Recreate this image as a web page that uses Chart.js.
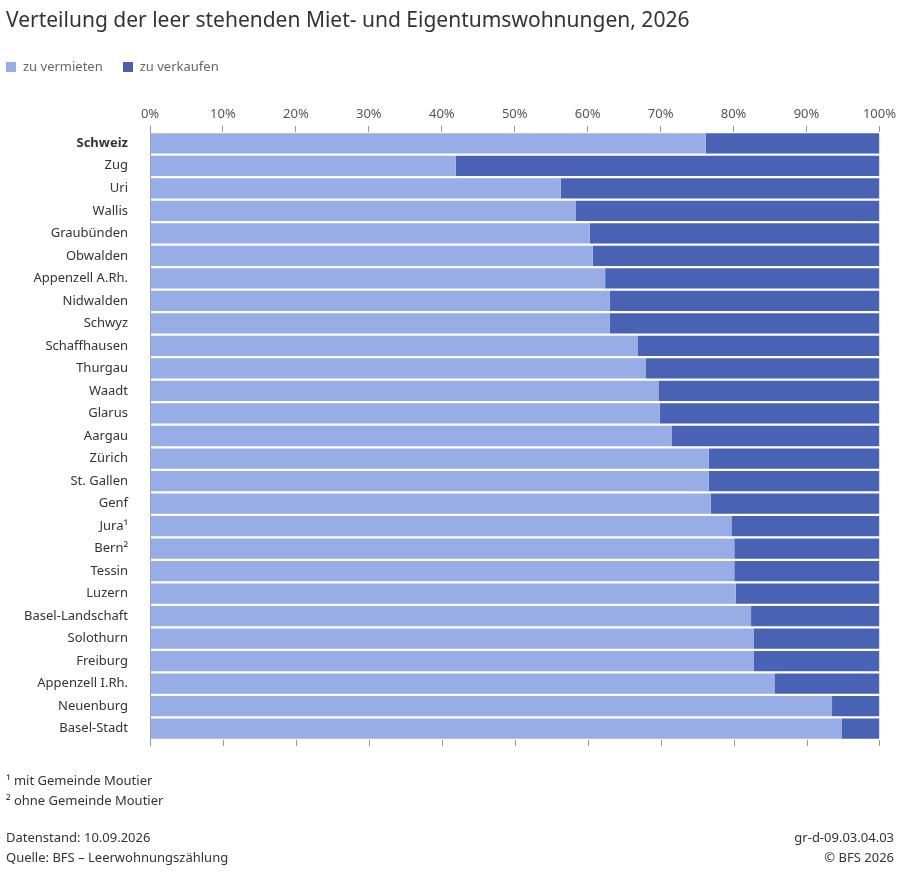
<!DOCTYPE html>
<html><head><meta charset="utf-8">
<script src="https://cdn.jsdelivr.net/npm/chart.js@4/dist/chart.umd.min.js"></script>
<style>
body{margin:0;background:#fff;font-family:"Noto Sans",sans-serif;color:#333}
#wrap{position:relative;width:900px;height:872px}
canvas{position:absolute;left:0;top:0}
.t{position:absolute;white-space:nowrap}
.sq{display:inline-block;width:10px;height:10px;margin-right:7px;vertical-align:-1px}
</style></head><body>
<div id="wrap">
<canvas id="c" width="900" height="872"></canvas>
<div class="t" style="left:6px;top:5px;font-size:21px;color:#333">Verteilung der leer stehenden Miet- und Eigentumswohnungen, 2026</div>
<div class="t" style="left:6px;top:57px;font-size:13px;color:#666"><span class="sq" style="background:#98ade6"></span>zu vermieten<span class="sq" style="background:#4a62b3;margin-left:20px"></span>zu verkaufen</div>
<div class="t" style="left:6px;top:770px;font-size:13px;line-height:20px">¹ mit Gemeinde Moutier<br>² ohne Gemeinde Moutier</div>
<div class="t" style="left:6px;top:827px;font-size:13px;line-height:20px">Datenstand: 10.09.2026<br>Quelle: BFS – Leerwohnungszählung</div>
<div class="t" style="right:6px;top:827px;font-size:13px;line-height:20px;text-align:right">gr-d-09.03.04.03<br>© BFS 2026</div>
</div>
<script>
const categories=["Schweiz","Zug","Uri","Wallis","Graubünden","Obwalden","Appenzell A.Rh.","Nidwalden","Schwyz","Schaffhausen","Thurgau","Waadt","Glarus","Aargau","Zürich","St. Gallen","Genf","Jura¹","Bern²","Tessin","Luzern","Basel-Landschaft","Solothurn","Freiburg","Appenzell I.Rh.","Neuenburg","Basel-Stadt"];
const zuVermieten=[76.2,41.9,56.3,58.4,60.3,60.7,62.4,63.0,63.0,66.9,68.0,69.7,69.9,71.5,76.6,76.6,76.9,79.7,80.1,80.1,80.3,82.4,82.8,82.8,85.6,93.5,94.8];
const zuVerkaufen=zuVermieten.map(v=>+(100-v).toFixed(1));
const bottomTicks={id:'bt',afterDraw(ch){const x=ch.scales.x,c=ch.ctx,b=ch.chartArea.bottom;c.save();c.strokeStyle='#999';c.lineWidth=1;for(let v=0;v<=100;v+=10){const p=Math.round(x.getPixelForValue(v))+0.5;c.beginPath();c.moveTo(p,b);c.lineTo(p,b+6);c.stroke();}c.restore();}};
new Chart(document.getElementById('c'),{type:'bar',
data:{labels:categories,datasets:[
{label:'zu vermieten',data:zuVermieten,backgroundColor:'#98ade6'},
{label:'zu verkaufen',data:zuVerkaufen,backgroundColor:'#4a62b3'}]},
options:{indexAxis:'y',responsive:false,animation:false,
layout:{padding:{top:95,bottom:132,right:7,left:0}},
datasets:{bar:{categoryPercentage:1,barPercentage:0.9}},
plugins:{legend:{display:false},tooltip:{enabled:false}},
scales:{
x:{position:'top',stacked:true,min:0,max:100,
 afterFit(s){s.height=37},
 ticks:{stepSize:10,callback:v=>v+'%',color:'#555',font:{family:'Noto Sans',size:13},padding:4},
 grid:{drawOnChartArea:false,tickLength:6,color:'#999'},border:{display:false}},
y:{stacked:true,afterFit(s){s.width=150},
 ticks:{color:'#333',padding:14,font:c=>({family:'Noto Sans',size:13,weight:c.index===0?'bold':'normal'})},
 grid:{display:false},border:{color:'#999'}}}},
plugins:[bottomTicks]});
</script></body></html>
